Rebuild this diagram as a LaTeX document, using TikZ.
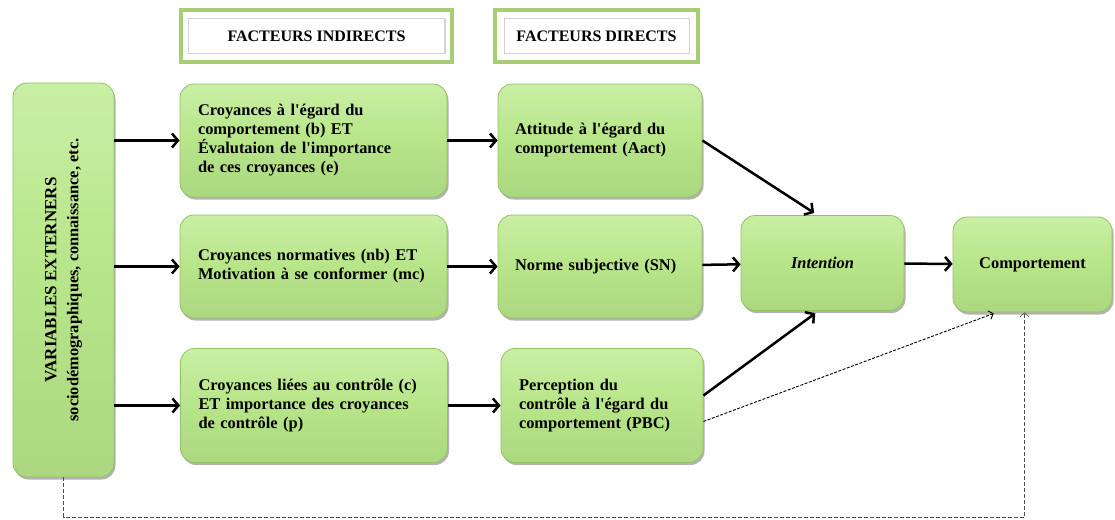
\documentclass[tikz,border=0pt]{standalone}
\usepackage{fontspec}
\setmainfont[Ligatures=TeXReset]{Liberation Serif}
\usepackage{tikz}
\usetikzlibrary{arrows.meta,shadows}

\definecolor{vertclair}{HTML}{C9EFA4}
\definecolor{vert}{HTML}{B7E589}
\definecolor{vertbord}{HTML}{92C264}
\definecolor{vertcadre}{HTML}{A9CD72}

\tikzset{
  boite/.style={draw=vertbord, line width=0.8pt, rounded corners=14pt,
    top color=vertclair, bottom color=vert!94!black, middle color=vert,
    drop shadow={shadow xshift=1.5pt, shadow yshift=-2.5pt, opacity=0.6},
    font=\fontsize{16.4}{19}\selectfont\bfseries, align=left, inner sep=0pt},
  cadre/.style={draw=vertcadre, line width=3.5pt, fill=white, inner sep=0pt},
  titre/.style={draw=gray!35, line width=0.8pt, fill=white, inner sep=0pt,
    drop shadow={shadow xshift=1pt, shadow yshift=-1pt, opacity=0.3},
    font=\fontsize{16}{18}\selectfont\bfseries},
  fleche/.style={line width=2.5pt, -{Straight Barb[length=6pt,width=14pt]}},
  pointille/.style={line width=0.9pt, dash pattern=on 3pt off 1.5pt, -{Straight Barb[length=4pt,width=9pt]}},
  tirets/.style={line width=0.6pt, black!70, dash pattern=on 4pt off 2pt, -{Straight Barb[length=4pt,width=9pt]}}
}

\begin{document}
\begin{tikzpicture}[x=1pt,y=-1pt]
\useasboundingbox (0,0) rectangle (1115,519);

% en-tetes
\node[cadre, minimum width=271, minimum height=52] (cadreind) at (316.5,36) {};
\node[titre, minimum width=256, minimum height=35] (titreind) at (cadreind) {FACTEURS INDIRECTS};
\node[cadre, minimum width=203, minimum height=52] (cadredir) at (596.5,36) {};
\node[titre, minimum width=185, minimum height=35] (titredir) at (cadredir) {FACTEURS DIRECTS};

% variables externes
\node[boite, minimum width=101, minimum height=394, align=center] (ext) at (63.5,280)
  {\rotatebox{90}{\begin{tabular}{@{}c@{}}{\fontsize{17}{19}\selectfont VARIABLES EXTERNERS}\\[3pt] sociodémographiques, connaissance, etc.\end{tabular}}};

% facteurs indirects
\node[boite, minimum width=267, minimum height=113, text width=231] (ind1) at (313.5,140.5)
  {Croyances à l'égard du\\ comportement (b) ET\\ Évalutaion de l'importance\\ de ces croyances (e)};
\node[boite, minimum width=267, minimum height=103, text width=231] (ind2) at (313.5,266.5)
  {Croyances normatives (nb) ET\\ Motivation à se conformer (mc)};
\node[boite, minimum width=267, minimum height=114, text width=231] (ind3) at (314,405.5)
  {Croyances liées au contrôle (c)\\ ET importance des croyances\\ de contrôle (p)};

% facteurs directs
\node[boite, minimum width=204, minimum height=113, text width=170] (dir1) at (600,140.5)
  {Attitude à l'égard du\\ comportement (Aact)};
\node[boite, minimum width=204, minimum height=103, text width=170] (dir2) at (600,266.5)
  {Norme subjective (SN)};
\node[boite, minimum width=202, minimum height=114, text width=166] (dir3) at (602,405.5)
  {Perception du\\ contrôle à l'égard du\\ comportement (PBC)};

\node[boite, minimum width=163, minimum height=95, align=center] (intention) at (822.5,263) {\itshape Intention};
\node[boite, minimum width=159, minimum height=95, align=center] (comport) at (1032.5,264.5) {Comportement};

% fleches
\foreach \n in {1,2,3}
  \draw[fleche] (ext.east |- ind\n) -- (ind\n);
\foreach \n in {1,2,3}
  \draw[fleche] (ind\n) -- (dir\n);
\draw[fleche] (dir2) -- (intention);
\draw[fleche] (intention) -- (comport);
\draw[fleche, shorten >=4pt] (dir1.east) -- ([xshift=-5pt]intention.north);
\draw[fleche, shorten >=4pt] ([yshift=10pt]dir3.east) -- ([xshift=-4pt]intention.south);
\draw[pointille, shorten >=3pt] ([yshift=-16pt]dir3.east) -- ([xshift=-36pt]comport.south);
\draw[tirets] (ext.south) -- (ext.south |- 0,517) -| ([xshift=-8pt]comport.south);

\end{tikzpicture}
\end{document}
